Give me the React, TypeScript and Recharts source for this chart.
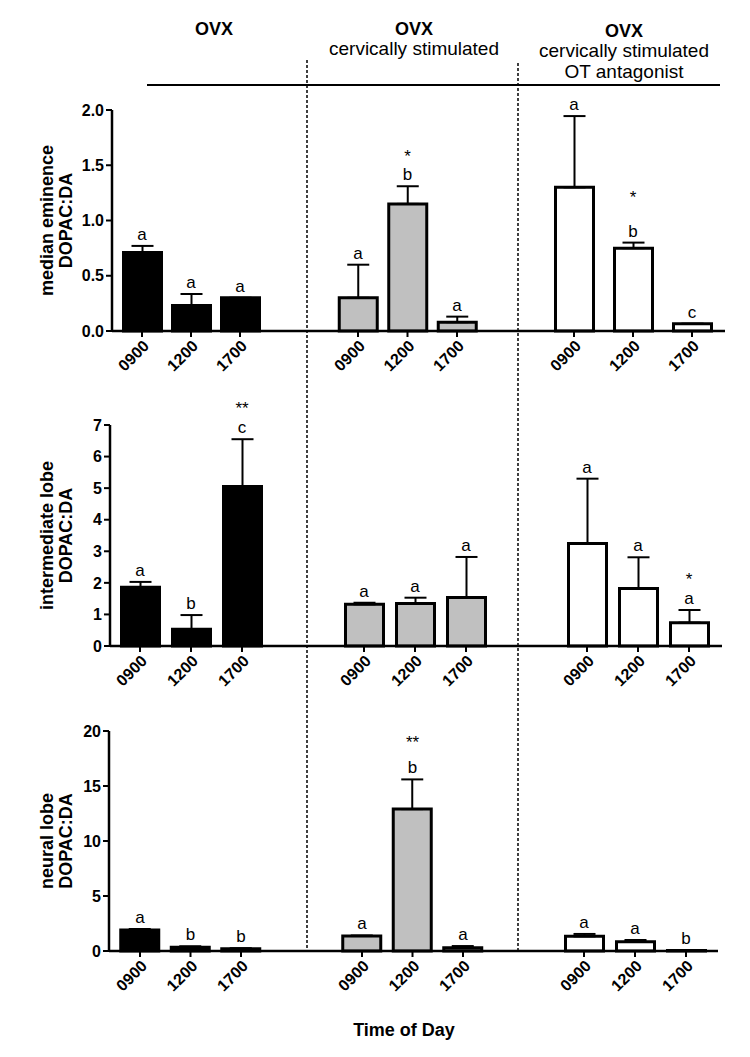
import React from "react";
import { BarChart, Bar, XAxis, YAxis, ErrorBar, ReferenceDot } from "recharts";

// ── Data ───────────────────────────────────────────────────────────────────
const times = ["0900", "1200", "1700"];

// median eminence
const meOvx = [0.71, 0.23, 0.3];
const meOvxSem = [0.06, 0.105, 0.0];
const meOvxLetters = ["a", "a", "a"];
const meOvxStars = ["", "", ""];

const meCs = [0.3, 1.15, 0.08];
const meCsSem = [0.3, 0.16, 0.05];
const meCsLetters = ["a", "b", "a"];
const meCsStars = ["", "*", ""];

const meOta = [1.3, 0.75, 0.065];
const meOtaSem = [0.645, 0.05, 0.0];
const meOtaLetters = ["a", "b", "c"];
const meOtaStars = ["", "*", ""];

// intermediate lobe
const ilOvx = [1.86, 0.53, 5.05];
const ilOvxSem = [0.17, 0.45, 1.5];
const ilOvxLetters = ["a", "b", "c"];
const ilOvxStars = ["", "", "**"];

const ilCs = [1.32, 1.35, 1.54];
const ilCsSem = [0.05, 0.18, 1.28];
const ilCsLetters = ["a", "a", "a"];
const ilCsStars = ["", "", ""];

const ilOta = [3.25, 1.82, 0.74];
const ilOtaSem = [2.05, 0.99, 0.4];
const ilOtaLetters = ["a", "a", "a"];
const ilOtaStars = ["", "", "*"];

// neural lobe
const nlOvx = [1.9, 0.35, 0.2];
const nlOvxSem = [0.1, 0.08, 0.05];
const nlOvxLetters = ["a", "b", "b"];
const nlOvxStars = ["", "", ""];

const nlCs = [1.36, 12.9, 0.3];
const nlCsSem = [0.05, 2.7, 0.15];
const nlCsLetters = ["a", "b", "a"];
const nlCsStars = ["", "**", ""];

const nlOta = [1.33, 0.85, 0.05];
const nlOtaSem = [0.22, 0.15, 0.0];
const nlOtaLetters = ["a", "a", "b"];
const nlOtaStars = ["", "", ""];

const meTicks = [0, 0.5, 1, 1.5, 2];
const ilTicks = [0, 1, 2, 3, 4, 5, 6, 7];
const nlTicks = [0, 5, 10, 15, 20];

// ── Layout / style ─────────────────────────────────────────────────────────
const FONT = "'Liberation Sans', Arial, Helvetica, sans-serif";
const fills = ["#000000", "#c0c0c0", "#ffffff"];

type Slot = { start: number; end: number; c1: number; c3: number; starGap?: number };
type Row = {
  top: number;
  bottom: number;
  mTop: number;
  mBottom: number;
  domain: [number, number];
  ticks: number[];
  fmt: (v: number) => string;
  title: string[];
  slots: Slot[];
  groups: { means: number[]; sem: number[]; letters: string[]; stars: string[] }[];
};

const rows: Row[] = [
  {
    top: 110, bottom: 331, mTop: 52, mBottom: 46,
    domain: [0, 2], ticks: meTicks, fmt: (v) => v.toFixed(1),
    title: ["median eminence", "DOPAC:DA"],
    slots: [
      { start: 112, end: 307, c1: 142, c3: 240 },
      { start: 307, end: 518, c1: 358, c3: 457, starGap: 18 },
      { start: 518, end: 725, c1: 574, c3: 692, starGap: 34 },
    ],
    groups: [
      { means: meOvx, sem: meOvxSem, letters: meOvxLetters, stars: meOvxStars },
      { means: meCs, sem: meCsSem, letters: meCsLetters, stars: meCsStars },
      { means: meOta, sem: meOtaSem, letters: meOtaLetters, stars: meOtaStars },
    ],
  },
  {
    top: 425, bottom: 646, mTop: 45, mBottom: 46,
    domain: [0, 7], ticks: ilTicks, fmt: (v) => String(v),
    title: ["intermediate lobe", "DOPAC:DA"],
    slots: [
      { start: 110, end: 307, c1: 140, c3: 242, starGap: 19 },
      { start: 307, end: 518, c1: 364, c3: 466 },
      { start: 518, end: 722, c1: 587, c3: 689, starGap: 19 },
    ],
    groups: [
      { means: ilOvx, sem: ilOvxSem, letters: ilOvxLetters, stars: ilOvxStars },
      { means: ilCs, sem: ilCsSem, letters: ilCsLetters, stars: ilCsStars },
      { means: ilOta, sem: ilOtaSem, letters: ilOtaLetters, stars: ilOtaStars },
    ],
  },
  {
    top: 731, bottom: 951, mTop: 39, mBottom: 52,
    domain: [0, 20], ticks: nlTicks, fmt: (v) => String(v),
    title: ["neural lobe", "DOPAC:DA"],
    slots: [
      { start: 109, end: 307, c1: 140, c3: 241 },
      { start: 307, end: 518, c1: 362, c3: 463, starGap: 25 },
      { start: 518, end: 718, c1: 584, c3: 686 },
    ],
    groups: [
      { means: nlOvx, sem: nlOvxSem, letters: nlOvxLetters, stars: nlOvxStars },
      { means: nlCs, sem: nlCsSem, letters: nlCsLetters, stars: nlCsStars },
      { means: nlOta, sem: nlOtaSem, letters: nlOtaLetters, stars: nlOtaStars },
    ],
  },
];

// ── Annotation label (letter + optional star) ──────────────────────────────
function Annot(props: any) {
  const { viewBox, letter, star, gap } = props;
  if (!viewBox) return null;
  const cx = viewBox.x + (viewBox.width || 0) / 2;
  const cy = viewBox.y + (viewBox.height || 0) / 2;
  const base = cy - 6;
  return (
    <g>
      <text x={cx} y={base} textAnchor="middle" fontSize={17} fill="#000" fontFamily={FONT}>
        {letter}
      </text>
      {star ? (
        <text x={cx} y={base - (gap || 19)} textAnchor="middle" fontSize={17} fill="#000" fontFamily={FONT}>
          {star}
        </text>
      ) : null}
    </g>
  );
}

// ── One group of three bars ────────────────────────────────────────────────
function GroupChart({ row, gi }: { row: Row; gi: number }) {
  const slot = row.slots[gi];
  const group = row.groups[gi];
  const showY = gi === 0;
  const w = (slot.c3 - slot.c1) * 1.5;
  const bandStart = slot.c1 - w / 6;
  const padL = bandStart - slot.start;
  const padR = slot.end - (bandStart + w);
  const chartLeft = showY ? 0 : slot.start;
  const width = slot.end - chartLeft;
  const plotH = row.bottom - row.top;
  const height = row.mTop + plotH + row.mBottom;
  const data = times.map((t, i) => ({ time: t, mean: group.means[i], err: [0, group.sem[i]] }));

  const yTitle = () => {
    const cy = row.mTop + plotH / 2;
    return (
      <g>
        <text transform={`translate(53, ${cy}) rotate(-90)`} textAnchor="middle" fontSize={18} fontWeight={700} fill="#000" fontFamily={FONT}>
          {row.title[0]}
        </text>
        <text transform={`translate(72, ${cy}) rotate(-90)`} textAnchor="middle" fontSize={18} fontWeight={700} fill="#000" fontFamily={FONT}>
          {row.title[1]}
        </text>
      </g>
    );
  };

  return (
    <div style={{ position: "absolute", left: chartLeft, top: row.top - row.mTop }}>
      <BarChart
        width={width}
        height={height}
        data={data}
        margin={{ top: row.mTop, right: 0, bottom: 0, left: 0 }}
        barSize={38}
      >
        <XAxis
          dataKey="time"
          interval={0}
          height={row.mBottom}
          padding={{ left: padL, right: padR }}
          axisLine={{ stroke: "#000", strokeWidth: 2.5 }}
          tickLine={{ stroke: "#000", strokeWidth: 2 }}
          tickSize={6}
          tick={{ angle: -45, textAnchor: "end", fontSize: 16, fontWeight: 700, fill: "#000", fontFamily: FONT }}
        />
        <YAxis
          domain={row.domain}
          ticks={row.ticks}
          hide={!showY}
          width={showY ? slot.start : 0}
          interval={0}
          tickFormatter={row.fmt}
          axisLine={{ stroke: "#000", strokeWidth: 2.5 }}
          tickLine={{ stroke: "#000", strokeWidth: 2 }}
          tickSize={6}
          tick={{ fontSize: 16, fontWeight: 700, fill: "#000", fontFamily: FONT }}
          label={showY ? yTitle : undefined}
        />
        <Bar dataKey="mean" fill={fills[gi]} stroke="#000" strokeWidth={3} isAnimationActive={false}>
          <ErrorBar dataKey="err" width={11} strokeWidth={2} stroke="#000" isAnimationActive={false} />
        </Bar>
        {times.map((t, i) => (
          <ReferenceDot
            key={t}
            x={t}
            y={group.means[i] + group.sem[i]}
            r={0}
            fill="none"
            stroke="none"
            ifOverflow="visible"
            label={<Annot letter={group.letters[i]} star={group.stars[i]} gap={slot.starGap} />}
          />
        ))}
      </BarChart>
    </div>
  );
}

// ── Main ───────────────────────────────────────────────────────────────────
export default function App() {
  return (
    <div style={{ position: "absolute", left: 0, top: 0, width: 750, height: 1057, background: "#fff", fontFamily: FONT }}>
      {rows.map((row, ri) =>
        [0, 1, 2].map((gi) => <GroupChart key={`${ri}-${gi}`} row={row} gi={gi} />)
      )}
      <svg width={750} height={1057} style={{ position: "absolute", left: 0, top: 0, pointerEvents: "none" }}>
        {/* group dividers */}
        <line x1={307} y1={60} x2={307} y2={950} stroke="#000" strokeWidth={1.5} strokeDasharray="3 2" />
        <line x1={518} y1={63} x2={518} y2={950} stroke="#000" strokeWidth={1.5} strokeDasharray="3 2" />
        {/* header */}
        <g fontFamily={FONT} fill="#000" textAnchor="middle">
          <text x={214} y={35} fontSize={18} fontWeight={700}>OVX</text>
          <text x={414} y={35} fontSize={18} fontWeight={700}>OVX</text>
          <text x={414} y={55} fontSize={19}>cervically stimulated</text>
          <text x={624} y={37} fontSize={18} fontWeight={700}>OVX</text>
          <text x={624} y={57} fontSize={19}>cervically stimulated</text>
          <text x={624} y={78} fontSize={19}>OT antagonist</text>
          <text x={404} y={1036} fontSize={18} fontWeight={700}>Time of Day</text>
        </g>
        <line x1={147} y1={85} x2={720} y2={85} stroke="#000" strokeWidth={2} />
      </svg>
    </div>
  );
}
